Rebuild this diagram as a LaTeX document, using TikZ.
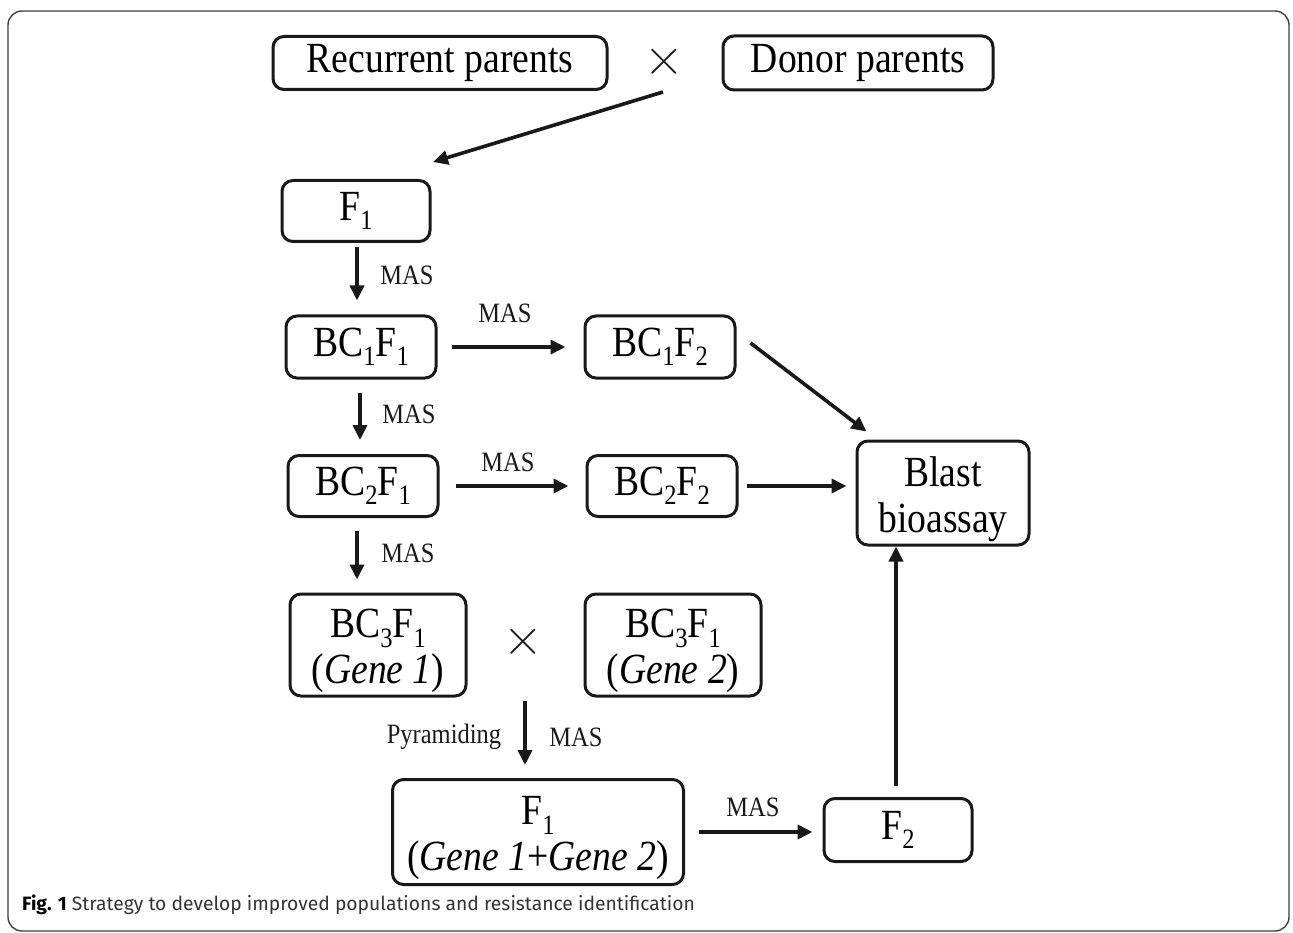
\documentclass[tikz,border=0pt]{standalone}
\usepackage{fontspec}
\setmainfont{Liberation Serif}[FakeStretch=0.875]
\newfontfamily\capfont{Fira Sans}
\usetikzlibrary{arrows.meta}
\newcommand{\sbs}[1]{\raisebox{-9.5pt}{\fontsize{28}{28}\selectfont #1}}
\tikzset{
  box/.style={draw=black!90, line width=3pt, rounded corners=11pt, inner sep=0pt, align=center,
              font=\fontsize{43}{46}\selectfont},
  txt/.style={inner sep=0pt, align=center, font=\fontsize{43}{46}\selectfont},
  arr/.style={draw=black!90, line width=3.6pt, -{Triangle[length=15pt,width=14pt]}},
  lab/.style={font=\fontsize{28}{30}\selectfont, inner sep=0pt, text=black!90},
  crs/.style={font=\fontfamily{lmr}\fontsize{55}{55}\selectfont, inner sep=0pt, text=black!90},
}
\begin{document}
\begin{tikzpicture}[x=1pt, y=-1pt]
\useasboundingbox (0,0) rectangle (1293,933);
\draw[line width=1.4pt, draw=black!75, rounded corners=14pt] (8,11) rectangle (1289,931);

% nodes
\node[box, minimum width=334pt, minimum height=53pt] (rec) at (440,63) {Recurrent parents};
\node[crs] (x1) at (664,62) {×};
\node[box, minimum width=270pt, minimum height=54pt] (don) at (858,63) {Donor parents};
\node[box, minimum width=148pt, minimum height=61pt] (f1) at (356,211) {F\sbs{1}};
\node[box, minimum width=150pt, minimum height=62pt] (bc1f1) at (361,347) {BC\sbs{1}F\sbs{1}};
\node[box, minimum width=150pt, minimum height=62pt] (bc1f2) at (660,347) {BC\sbs{1}F\sbs{2}};
\node[box, minimum width=150pt, minimum height=61pt] (bc2f1) at (363,486) {BC\sbs{2}F\sbs{1}};
\node[box, minimum width=150pt, minimum height=61pt] (bc2f2) at (662,486) {BC\sbs{2}F\sbs{2}};
\node[box, minimum width=172pt, minimum height=104pt] (blast) at (943,493) {};
\node[txt] (blastt) at ([yshift=-6pt]blast.center) {Blast\\bioassay};
\node[box, minimum width=176pt, minimum height=102pt] (bc3a) at (378,645) {};
\node[txt] (bc3at) at ([yshift=-6pt]bc3a.center) {BC\sbs{3}F\sbs{1}\\(\textit{Gene 1})};
\node[crs] (x2) at (523,642) {×};
\node[box, minimum width=176pt, minimum height=102pt] (bc3b) at (673,645) {};
\node[txt] (bc3bt) at ([yshift=-6pt]bc3b.center) {BC\sbs{3}F\sbs{1}\\(\textit{Gene 2})};
\node[box, minimum width=291pt, minimum height=105pt] (f1g) at (538,832) {};
\node[txt] (f1gt) at ([yshift=-6pt]f1g.center) {F\sbs{1}\\(\textit{Gene 1}+\textit{Gene 2})};
\node[box, minimum width=148pt, minimum height=63pt] (f2) at (898,830) {F\sbs{2}};

% connectors
\coordinate (c0) at (663,92);
\coordinate (c1) at (433,162);
\draw[arr] (c0) -- (c1);
\draw[arr] ([xshift=1pt,yshift=-4pt]f1.south) -- ([xshift=1pt,yshift=14pt]f1.south |- bc1f1.north);
\node[lab] (m1) at (407,275) {MAS};
\draw[arr] ([xshift=14pt]bc1f1.east) -- ([xshift=-18pt]bc1f2.west);
\node[lab] (m2) at (505,313) {MAS};
\draw[arr] ([xshift=14pt,yshift=4pt]bc1f2.east) -- ([shift={(11pt,8pt)}]blast.north west);
\draw[arr] ([xshift=-1pt,yshift=-13pt]bc1f1.south) -- ([xshift=-1pt,yshift=14pt]bc1f1.south |- bc2f1.north);
\node[lab] (m3) at (409,414) {MAS};
\draw[arr] ([xshift=16pt]bc2f1.east) -- ([xshift=-17pt]bc2f2.west);
\node[lab] (m4) at (508,462) {MAS};
\draw[arr] ([xshift=8pt]bc2f2.east) -- ([xshift=-9pt]blast.west |- bc2f2.east);
\draw[arr] ([xshift=-6pt,yshift=-13pt]bc2f1.south) -- ([xshift=-6pt,yshift=13pt]bc2f1.south |- bc3a.north);
\node[lab] (m5) at (408,553) {MAS};
\draw[arr] ([xshift=2pt,yshift=-45pt]x2.south) -- ([xshift=2pt,yshift=13pt]x2.south |- f1g.north);
\node[lab] (pyr) at (444,737) {Pyramiding};
\node[lab] (m6) at (576,737) {MAS};
\draw[arr] ([xshift=14pt]f1g.east) -- ([xshift=-10pt]f2.west |- f1g.east);
\node[lab] (m7) at (753,807) {MAS};
\draw[arr] ([xshift=-2pt,yshift=11pt]f2.north) -- ([xshift=-2pt]f2.north |- blast.south);

% caption
\node[anchor=base west, inner sep=0pt, text=black!80, font=\capfont\fontsize{19.3}{21}\selectfont] (cap) at (22,910)
  {\textbf{\color{black}Fig. 1} Strategy to develop improved populations and resistance identification};
\end{tikzpicture}
\end{document}
